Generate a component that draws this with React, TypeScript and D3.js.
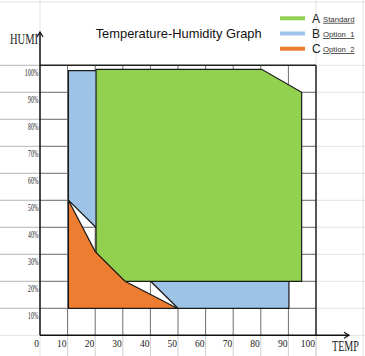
import React from 'react';
import * as d3 from 'd3';

// chart values
const tempTicks = [0, 10, 20, 30, 40, 50, 60, 70, 80, 90, 100];
const humiTicks = [10, 20, 30, 40, 50, 60, 70, 80, 90, 100];

const standardArea: [number, number][] = [
  [20.3, 98.5], [80.3, 98.5], [94.8, 90], [94.8, 20], [30.5, 20], [20.3, 30.5],
];
const option1Area: [number, number][] = [
  [10.3, 98], [21, 98], [21, 20], [90.2, 20], [90.2, 10], [50, 10], [10.3, 50],
];
const option2Area: [number, number][] = [
  [10.3, 50], [20, 31], [30.8, 20], [49.7, 10], [10.3, 10],
];

const legendItems = [
  { key: 'A', label: 'Standard', color: '#92d050' },
  { key: 'B', label: 'Option  1', color: '#9dc3e6' },
  { key: 'C', label: 'Option  2', color: '#ed7d31' },
];

const W = 365;
const H = 356;

const App = () => {
  const x = d3.scaleLinear().domain([0, 100]).range([40, 316]);
  const y = d3.scaleLinear().domain([0, 100]).range([335.3, 65.3]);

  const line = d3.line<[number, number]>()
    .x((d) => x(d[0]))
    .y((d) => y(d[1]))
    .curve(d3.curveLinearClosed);

  // faint spreadsheet cells behind everything
  const rowStep = y(0) - y(10);
  const sheetRows = [2, ...d3.range(y(100), H + 1, rowStep)];
  const serif = '"Liberation Serif", "DejaVu Serif", serif';
  const sans = '"Liberation Sans", Arial, sans-serif';

  return (
    <svg width={W} height={H} style={{ position: 'absolute', left: 0, top: 0 }}>
      <rect width={W} height={H} fill="#fff" />
      {sheetRows.map((r) => (
        <line key={'sr' + r} x1={0} x2={W} y1={r} y2={r} stroke="#e3e3e3" strokeWidth={1} />
      ))}
      <line x1={x(0)} x2={x(0)} y1={0} y2={H} stroke="#e3e3e3" />
      <line x1={x(100)} x2={x(100)} y1={0} y2={H} stroke="#e3e3e3" />
      <line x1={363} x2={363} y1={0} y2={H} stroke="#e3e3e3" />

      {/* cells below the axis and left of it */}
      {tempTicks.slice(1).map((t) => (
        <line key={'vb' + t} x1={x(t)} x2={x(t)} y1={y(0)} y2={H} stroke="#d0d0d0" />
      ))}
      {humiTicks.map((h) => (
        <line key={'hl' + h} x1={0} x2={x(0)} y1={y(h)} y2={y(h)} stroke="#bdbdbd" />
      ))}

      {/* plot grid */}
      {tempTicks.slice(1, -1).map((t) => (
        <line key={'gv' + t} x1={x(t)} x2={x(t)} y1={y(100)} y2={y(0)} stroke="#6e6e6e" strokeWidth={1} />
      ))}
      {humiTicks.slice(0, -1).map((h) => (
        <line key={'gh' + h} x1={x(0)} x2={x(100)} y1={y(h)} y2={y(h)} stroke="#6e6e6e" strokeWidth={1} />
      ))}

      {/* areas */}
      <path d={line(option1Area) || ''} fill="#9dc3e6" stroke="#1a1a1a" strokeWidth={1.2} />
      <path d={line(standardArea) || ''} fill="#92d050" stroke="#1a1a1a" strokeWidth={1.2} />
      <path d={line(option2Area) || ''} fill="#ed7d31" stroke="#1a1a1a" strokeWidth={1.2} />

      {/* frame */}
      <line x1={x(0)} x2={x(100)} y1={y(100)} y2={y(100)} stroke="#222" strokeWidth={1.5} />
      <line x1={x(100)} x2={x(100)} y1={y(100)} y2={y(0)} stroke="#222" strokeWidth={1.5} />

      {/* axes with arrows */}
      <line x1={x(0)} x2={x(0)} y1={y(0)} y2={32} stroke="#111" strokeWidth={1.5} />
      <polyline points={`${x(0) - 3},37 ${x(0)},32 ${x(0) + 3},37`} fill="none" stroke="#111" strokeWidth={1.2} />
      <line x1={x(0)} x2={349} y1={y(0)} y2={y(0)} stroke="#111" strokeWidth={1.5} />
      <polyline points={`344,${y(0) - 3} 349,${y(0)} 344,${y(0) + 3}`} fill="none" stroke="#111" strokeWidth={1.2} />

      {/* tick labels */}
      {tempTicks.map((t) => (
        <text key={'xt' + t} x={x(t) - 1} y={y(0) + 11.5} textAnchor="end"
          fontFamily={serif} fontSize={9.5} fill="#222">{t}</text>
      ))}
      {humiTicks.map((h) => {
        const s = h + '%';
        return (
          <text key={'yt' + h} x={38.5} y={y(h) + 11} textAnchor="end"
            fontFamily={serif} fontSize={9.5} fill="#222"
            textLength={(s.length - 1) * 3.3 + 3.8} lengthAdjust="spacingAndGlyphs">{s}</text>
        );
      })}

      {/* axis titles, narrow like the original */}
      <text transform="translate(10,44) scale(0.75,1)" fontFamily={serif} fontSize={14} fill="#222">HUMI</text>
      <text transform="translate(332,350.5) scale(0.72,1)" fontFamily={serif} fontSize={14} fill="#222">TEMP</text>

      {/* title */}
      <text x={95.7} y={37.8} fontFamily={sans} fontSize={12.8} fill="#111"
        textLength={166} lengthAdjust="spacingAndGlyphs">Temperature-Humidity Graph</text>

      {/* legend */}
      {legendItems.map((d, i) => {
        const ly = 18.3 + i * 15.2;
        return (
          <g key={d.key}>
            <line x1={280} x2={305} y1={ly} y2={ly} stroke={d.color} strokeWidth={4} />
            <text x={312} y={ly + 4.3} fontFamily={sans} fontSize={12} fill="#222">{d.key}</text>
            <text x={323} y={ly + 3.5} fontFamily={sans} fontSize={8} fill="#333"
              textDecoration="underline" textLength={31.5} lengthAdjust="spacingAndGlyphs"
              style={{ whiteSpace: 'pre' }}>{d.label}</text>
          </g>
        );
      })}
    </svg>
  );
};

export default App;
